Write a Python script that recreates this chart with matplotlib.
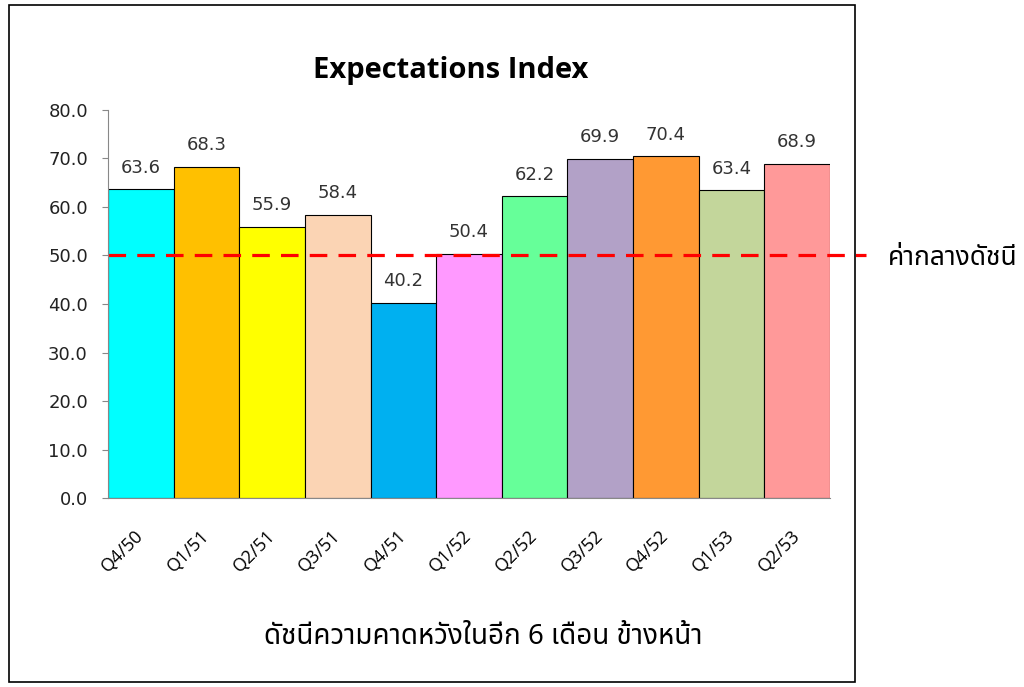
import matplotlib
matplotlib.use("Agg")
import matplotlib.pyplot as plt
from matplotlib import font_manager
from matplotlib.ft2font import FT2Font
from matplotlib.patches import Rectangle

quarters = ["Q4/50", "Q1/51", "Q2/51", "Q3/51", "Q4/51", "Q1/52",
            "Q2/52", "Q3/52", "Q4/52", "Q1/53", "Q2/53"]
values = [63.6, 68.3, 55.9, 58.4, 40.2, 50.4, 62.2, 69.9, 70.4, 63.4, 68.9]
bar_colors = ["#00FFFF", "#FFC000", "#FFFF00", "#FBD4B4", "#00B0F0", "#FF99FF",
              "#66FF99", "#B2A1C7", "#FF9933", "#C3D69B", "#FF9999"]
midline = 50.0
title = "Expectations Index"
xlabel = "ดัชนีความคาดหวังในอีก 6 เดือน ข้างหน้า"
midline_label = "ค่ากลางดัชนี"


# pick an installed font that has Thai, preferring proportional ones
# whose combining marks take no advance
def thai_font():
    preferred = ["Noto Sans Thai", "Noto Sans Thai UI", "Loma", "Garuda", "Waree",
                 "Tlwg Typo", "Umpush", "Sawasdee", "Norasi", "Kinnari", "FreeSans"]
    found = {}
    for path in font_manager.findSystemFonts():
        try:
            f = FT2Font(path)
            if 0x0E01 not in f.get_charmap():
                continue
            name = font_manager.FontProperties(fname=path).get_name()
            score = 0
            if f.load_char(0x0E35).horiAdvance == 0:
                score += 2
            low = name.lower()
            if "mono" in low or "typewriter" in low:
                score -= 3
            if "bold" in path.lower() or "oblique" in path.lower() or "italic" in path.lower():
                score -= 1
            found[name] = max(found.get(name, -99), score)
        except Exception:
            pass
    if not found:
        return "DejaVu Sans"
    for p in preferred:
        if p in found and found[p] >= 2:
            return p
    return max(found, key=lambda n: found[n])


thai = thai_font()

fig = plt.figure(figsize=(10.24, 6.87), dpi=100)
ax = fig.add_axes([0.1055, 0.275, 0.705, 0.565])

x = range(len(values))
ax.bar(x, values, width=1.0, color=bar_colors, edgecolor="black", linewidth=0.8)
for i, v in enumerate(values):
    ax.text(i, v + 2.6, f"{v:.1f}", ha="center", va="bottom", fontsize=13,
            color="#333333", family="DejaVu Sans")

ax.axhline(midline, color="red", linestyle=(0, (5.5, 3.5)), linewidth=2.3,
           xmin=0, xmax=1.05, clip_on=False)

ax.set_xlim(-0.5, len(values) - 0.5)
ax.set_ylim(0, 80)
ax.set_yticks(range(0, 81, 10))
ax.set_yticklabels([f"{t:.1f}" for t in range(0, 81, 10)], family="DejaVu Sans",
                   fontsize=13, color="#222222")
ax.set_xticks(list(x))
ax.set_xticklabels(quarters, rotation=45, ha="right", va="center",
                   rotation_mode="anchor", family="Open Sans", fontsize=13)
ax.tick_params(axis="x", length=0, pad=25)
ax.tick_params(axis="y", direction="out", length=4.5, color="#888888", pad=10)

for s in ["top", "right"]:
    ax.spines[s].set_visible(False)
ax.spines["left"].set_color("#888888")
ax.spines["bottom"].set_color("#888888")

fig.text(0.44, 0.898, title, ha="center", va="center", fontsize=21,
         fontweight="bold", family="Open Sans")
fig.text(0.472, 0.073, xlabel, ha="center", va="center", fontsize=20,
         family=[thai, "DejaVu Sans"])
fig.text(0.867, 0.625, midline_label, ha="left", va="center", fontsize=19,
         family=[thai, "DejaVu Sans"])

fig.patches.append(Rectangle((0.009, 0.008), 0.826, 0.985, transform=fig.transFigure,
                             fill=False, edgecolor="black", linewidth=1.2))

fig.savefig("out.png", dpi=100)
